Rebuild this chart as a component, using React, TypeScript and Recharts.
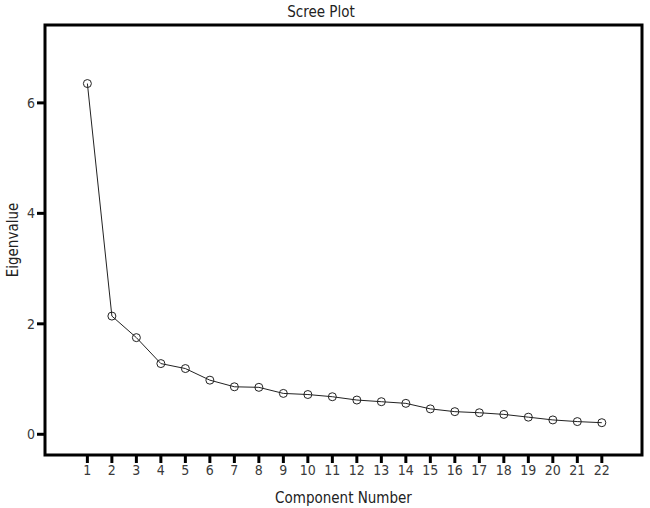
import { LineChart, Line, XAxis, YAxis, ReferenceArea } from "recharts";

// scree plot: eigenvalues per component
const components = [1, 2, 3, 4, 5, 6, 7, 8, 9, 10, 11, 12, 13, 14, 15, 16, 17, 18, 19, 20, 21, 22];
const eigenvalues = [
  6.35, 2.14, 1.75, 1.28, 1.19, 0.98, 0.86, 0.85, 0.74, 0.72, 0.68,
  0.62, 0.59, 0.56, 0.46, 0.41, 0.39, 0.36, 0.31, 0.26, 0.23, 0.21,
];
const yTicks = [0, 2, 4, 6];

const X_DOMAIN: [number, number] = [-0.73, 23.64];
const Y_DOMAIN: [number, number] = [-0.375, 7.41];

const FONT = "'Liberation Sans Narrow', 'DejaVu Sans Condensed', 'Liberation Sans', sans-serif";
const LABEL_COLOR = "#3a3a3a";

const data = components.map((c, i) => ({ component: c, eigen: eigenvalues[i] }));

const YLabel = (props: any) => {
  const vb = props.viewBox || {};
  const cy = vb.y + vb.height / 2;
  return (
    <text
      x={13}
      y={cy}
      transform={`rotate(-90, 13, ${cy})`}
      textAnchor="middle"
      dominantBaseline="central"
      fill="#222"
      fontSize={15}
    >
      Eigenvalue
    </text>
  );
};

export default function App() {
  return (
    <div style={{ position: "absolute", left: 0, top: 0, width: 650, height: 508, background: "#fff" }}>
      <div
        style={{
          position: "absolute",
          top: 3,
          left: 0,
          width: 642,
          textAlign: "center",
          fontFamily: FONT,
          fontSize: 15,
          color: "#222",
        }}
      >
        Scree Plot
      </div>
      <LineChart
        width={650}
        height={508}
        data={data}
        margin={{ top: 25, right: 8, bottom: 0, left: 0 }}
        style={{ fontFamily: FONT }}
      >
        <XAxis
          dataKey="component"
          type="number"
          domain={X_DOMAIN}
          ticks={components}
          interval={0}
          allowDataOverflow
          height={53}
          axisLine={false}
          tickLine={{ stroke: "#000", strokeWidth: 3 }}
          tickSize={8}
          tick={{ fill: LABEL_COLOR, fontSize: 14 }}
          label={{ value: "Component Number", position: "insideBottom", offset: 5, fill: "#222", fontSize: 15 }}
        />
        <YAxis
          type="number"
          domain={Y_DOMAIN}
          ticks={yTicks}
          allowDataOverflow
          width={45}
          axisLine={false}
          tickLine={{ stroke: "#000", strokeWidth: 3 }}
          tickSize={8}
          tick={{ fill: LABEL_COLOR, fontSize: 14 }}
          label={<YLabel />}
        />
        <ReferenceArea
          x1={X_DOMAIN[0]}
          x2={X_DOMAIN[1]}
          y1={Y_DOMAIN[0]}
          y2={Y_DOMAIN[1]}
          fill="none"
          stroke="#000"
          strokeWidth={3}
          ifOverflow="visible"
        />
        <Line
          type="linear"
          dataKey="eigen"
          stroke="#222"
          strokeWidth={1}
          dot={{ r: 4, stroke: "#222", strokeWidth: 1, fill: "none" }}
          isAnimationActive={false}
        />
      </LineChart>
    </div>
  );
}
